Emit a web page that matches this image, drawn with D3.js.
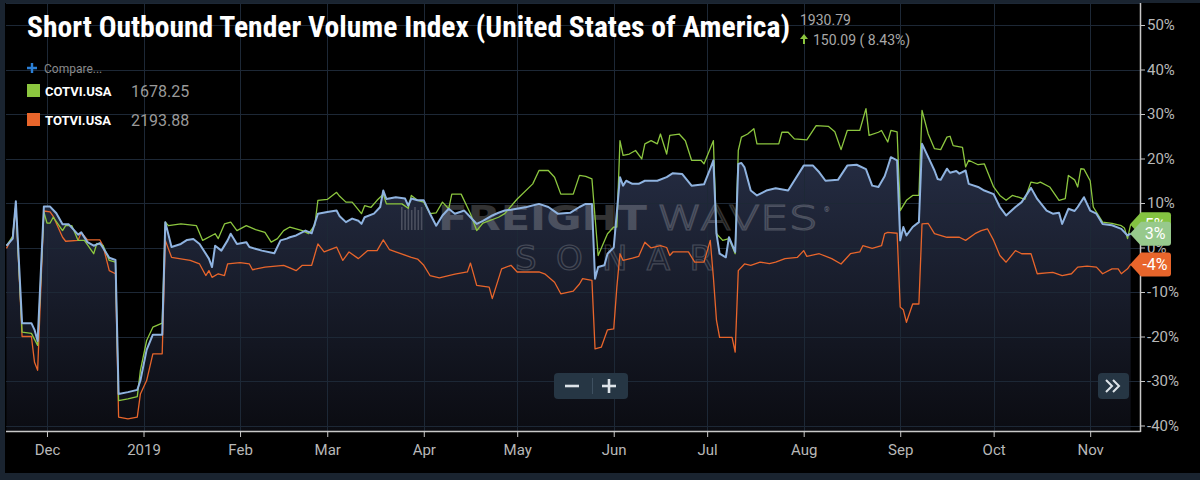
<!DOCTYPE html>
<html>
<head>
<meta charset="utf-8">
<script src="https://cdn.jsdelivr.net/npm/d3@7"></script>
<style>
  html, body { margin: 0; padding: 0; background: #000; }
  svg { display: block; font-family: Roboto, "Noto Sans", sans-serif; }
</style>
</head>
<body>
<svg id="chart" width="1200" height="480"></svg>
<script>
// values are % change
const otvi = [
  ["2018-11-18", 0.4], ["2018-11-20", 2.0], ["2018-11-21", 10.4], ["2018-11-23", -17], ["2018-11-26", -17],
  ["2018-11-27", -18.5], ["2018-11-28", -21], ["2018-11-30", 9.2], ["2018-12-02", 9.2], ["2018-12-04", 7.7],
  ["2018-12-06", 5.2], ["2018-12-08", 5.2], ["2018-12-11", 2.9], ["2018-12-12", 3.4], ["2018-12-14", 1.2],
  ["2018-12-16", 0.4], ["2018-12-18", 1.0], ["2018-12-21", -2.3], ["2018-12-23", -2.8], ["2018-12-24", -32.9],
  ["2018-12-27", -32.5], ["2018-12-30", -32], ["2018-12-31", -29.9], ["2019-01-02", -23], ["2019-01-04", -19.6],
  ["2019-01-07", -19.6], ["2019-01-08", 5.7], ["2019-01-10", 0.1], ["2019-01-13", 0.8], ["2019-01-15", 1.7],
  ["2019-01-17", 1.9], ["2019-01-19", 0.8], ["2019-01-22", -2.5], ["2019-01-23", -4.4], ["2019-01-24", 0.4],
  ["2019-01-26", -0.7], ["2019-01-28", 1.6], ["2019-01-29", 3.1], ["2019-01-31", 0.8], ["2019-02-03", 1.2],
  ["2019-02-04", 0.1], ["2019-02-08", -0.7], ["2019-02-12", -1.3], ["2019-02-14", 1.6], ["2019-02-16", 2.0],
  ["2019-02-17", 2.3], ["2019-02-19", 2.7], ["2019-02-22", 3.8], ["2019-02-24", 3.2], ["2019-02-26", 7.6],
  ["2019-03-01", 8.0], ["2019-03-04", 8.3], ["2019-03-05", 7.0], ["2019-03-07", 5.7], ["2019-03-09", 6.5],
  ["2019-03-11", 6.0], ["2019-03-12", 5.3], ["2019-03-13", 6.8], ["2019-03-16", 7.6], ["2019-03-18", 9.1],
  ["2019-03-19", 12.8], ["2019-03-20", 10.9], ["2019-03-23", 11.3], ["2019-03-26", 11.0], ["2019-03-27", 9.4],
  ["2019-03-28", 11.0], ["2019-03-30", 10.6], ["2019-04-01", 10.6], ["2019-04-03", 7.6], ["2019-04-05", 4.9],
  ["2019-04-07", 7.2], ["2019-04-09", 8.7], ["2019-04-11", 7.6], ["2019-04-14", 8.3], ["2019-04-16", 6.8],
  ["2019-04-18", 5.3], ["2019-04-20", 6.0], ["2019-04-23", 7.2], ["2019-04-25", 7.8], ["2019-04-27", 8.3],
  ["2019-04-29", 8.5], ["2019-05-04", 9.1], ["2019-05-08", 9.8], ["2019-05-11", 9.1], ["2019-05-14", 7.6],
  ["2019-05-18", 7.8], ["2019-05-21", 9.1], ["2019-05-23", 9.8], ["2019-05-25", 9.8], ["2019-05-26", -7.0],
  ["2019-05-27", -4.4], ["2019-05-29", -4.0], ["2019-05-30", -1.4], ["2019-06-01", 0], ["2019-06-03", 15.8],
  ["2019-06-04", 13.9], ["2019-06-05", 15.0], ["2019-06-07", 14.3], ["2019-06-09", 14.3], ["2019-06-11", 15.0],
  ["2019-06-15", 15.0], ["2019-06-18", 15.8], ["2019-06-20", 16.7], ["2019-06-23", 16.5], ["2019-06-26", 13.9],
  ["2019-06-30", 14.2], ["2019-07-02", 17.7], ["2019-07-03", 19.6], ["2019-07-04", 3.1], ["2019-07-05", -1.4],
  ["2019-07-07", -2.2], ["2019-07-08", 2.3], ["2019-07-10", -1.0], ["2019-07-11", 18.8], ["2019-07-12", 19.0],
  ["2019-07-13", 18.0], ["2019-07-15", 12.8], ["2019-07-17", 11.7], ["2019-07-20", 12.8], ["2019-07-23", 13.3],
  ["2019-07-27", 12.8], ["2019-08-01", 18.4], ["2019-08-04", 18.4], ["2019-08-06", 16.9], ["2019-08-08", 15.0],
  ["2019-08-12", 15.2], ["2019-08-15", 18.4], ["2019-08-18", 18.6], ["2019-08-21", 17.6], ["2019-08-23", 13.9],
  ["2019-08-25", 13.6], ["2019-08-27", 16.0], ["2019-08-28", 18.1], ["2019-08-29", 20.3], ["2019-08-31", 19.6],
  ["2019-09-01", 1.6], ["2019-09-02", 4.6], ["2019-09-03", 2.7], ["2019-09-05", 4.6], ["2019-09-07", 5.7],
  ["2019-09-08", 23.3], ["2019-09-10", 20.3], ["2019-09-12", 17.3], ["2019-09-13", 15.4], ["2019-09-14", 15.2],
  ["2019-09-16", 17.7], ["2019-09-17", 16.8], ["2019-09-19", 17.2], ["2019-09-20", 16.6], ["2019-09-22", 17.3],
  ["2019-09-23", 14.3], ["2019-09-26", 13.6], ["2019-09-28", 12.8], ["2019-10-01", 12.0], ["2019-10-03", 9.1],
  ["2019-10-05", 7.2], ["2019-10-08", 9.1], ["2019-10-10", 10.2], ["2019-10-13", 13.4], ["2019-10-15", 10.9],
  ["2019-10-18", 8.3], ["2019-10-20", 7.6], ["2019-10-22", 7.8], ["2019-10-23", 5.3], ["2019-10-25", 8.7],
  ["2019-10-27", 8.2], ["2019-10-28", 9.1], ["2019-10-30", 11.3], ["2019-11-01", 8.3], ["2019-11-03", 7.6],
  ["2019-11-05", 5.3], ["2019-11-08", 5.0], ["2019-11-11", 4.2], ["2019-11-13", 2.7], ["2019-11-14", 3.1]
];

const cotvi = [
  ["2018-11-18", 0.4], ["2018-11-20", 2.5], ["2018-11-21", 9.5], ["2018-11-23", -19], ["2018-11-26", -19.3],
  ["2018-11-28", -22], ["2018-11-30", 8.0], ["2018-12-01", 5.5], ["2018-12-02", 5.5], ["2018-12-03", 6.8],
  ["2018-12-06", 3.8], ["2018-12-07", 4.9], ["2018-12-09", 4.9], ["2018-12-11", 1.6], ["2018-12-13", 1.6],
  ["2018-12-16", -1.4], ["2018-12-17", 0.9], ["2018-12-19", 0.5], ["2018-12-21", -2.9], ["2018-12-23", -3.3],
  ["2018-12-24", -34.4], ["2018-12-27", -34], ["2018-12-30", -33.5], ["2018-12-31", -27.6], ["2019-01-02", -20.9],
  ["2019-01-04", -17.9], ["2019-01-07", -17], ["2019-01-08", 5.7], ["2019-01-09", 4.9], ["2019-01-13", 5.3],
  ["2019-01-18", 4.9], ["2019-01-20", 1.6], ["2019-01-24", 3.1], ["2019-01-25", 2.0], ["2019-01-27", 5.3],
  ["2019-01-29", 5.7], ["2019-01-31", 3.8], ["2019-02-03", 4.9], ["2019-02-06", 4.0], ["2019-02-09", 3.4],
  ["2019-02-11", 1.2], ["2019-02-13", 2.0], ["2019-02-15", 3.8], ["2019-02-17", 4.6], ["2019-02-19", 4.2],
  ["2019-02-21", 3.8], ["2019-02-23", 3.1], ["2019-02-25", 5.0], ["2019-02-26", 10.6], ["2019-03-01", 10.8],
  ["2019-03-04", 12.4], ["2019-03-05", 11.5], ["2019-03-07", 10.2], ["2019-03-09", 10.2], ["2019-03-12", 7.6],
  ["2019-03-13", 9.4], ["2019-03-15", 9.0], ["2019-03-17", 10.6], ["2019-03-19", 12.0], ["2019-03-20", 9.8],
  ["2019-03-25", 9.8], ["2019-03-27", 8.8], ["2019-03-28", 11.7], ["2019-03-30", 10.6], ["2019-04-01", 10.2],
  ["2019-04-03", 7.6], ["2019-04-05", 7.8], ["2019-04-07", 10.2], ["2019-04-09", 8.7], ["2019-04-10", 12.0],
  ["2019-04-13", 12.0], ["2019-04-16", 7.6], ["2019-04-18", 3.8], ["2019-04-20", 5.5], ["2019-04-25", 6.8],
  ["2019-04-27", 7.6], ["2019-05-01", 10.9], ["2019-05-06", 14.3], ["2019-05-08", 17.3], ["2019-05-11", 17.3],
  ["2019-05-13", 15.8], ["2019-05-15", 12.0], ["2019-05-19", 12.0], ["2019-05-21", 16.2], ["2019-05-23", 16.0],
  ["2019-05-25", 15.4], ["2019-05-27", -1.8], ["2019-05-30", 3.1], ["2019-06-01", 4.6], ["2019-06-02", 4.6],
  ["2019-06-03", 24.0], ["2019-06-04", 20.7], ["2019-06-06", 21.0], ["2019-06-08", 21.8], ["2019-06-10", 19.9],
  ["2019-06-11", 23.3], ["2019-06-13", 24.0], ["2019-06-15", 23.3], ["2019-06-16", 25.5], ["2019-06-18", 21.0],
  ["2019-06-19", 25.2], ["2019-06-22", 25.5], ["2019-06-24", 24.0], ["2019-06-26", 19.6], ["2019-06-29", 19.6],
  ["2019-06-30", 18.8], ["2019-07-03", 24.0], ["2019-07-04", 3.1], ["2019-07-06", 1.6], ["2019-07-08", 2.0],
  ["2019-07-10", -1.4], ["2019-07-11", 21.8], ["2019-07-12", 24.8], ["2019-07-14", 25.5], ["2019-07-16", 26.7],
  ["2019-07-17", 23.3], ["2019-07-24", 23.3], ["2019-07-25", 25.9], ["2019-07-27", 25.9], ["2019-07-29", 24.4],
  ["2019-08-02", 24.2], ["2019-08-05", 27.4], ["2019-08-09", 27.2], ["2019-08-11", 26.0], ["2019-08-13", 22.0],
  ["2019-08-15", 26.3], ["2019-08-19", 26.3], ["2019-08-21", 31.2], ["2019-08-22", 25.2], ["2019-08-25", 25.9],
  ["2019-08-26", 26.3], ["2019-08-28", 23.7], ["2019-08-29", 26.3], ["2019-08-31", 26.0], ["2019-09-01", 8.3],
  ["2019-09-03", 10.6], ["2019-09-05", 11.7], ["2019-09-07", 11.7], ["2019-09-08", 30.8], ["2019-09-10", 25.5],
  ["2019-09-12", 22.2], ["2019-09-14", 22.0], ["2019-09-16", 24.8], ["2019-09-17", 25.0], ["2019-09-18", 22.9],
  ["2019-09-21", 22.5], ["2019-09-22", 18.1], ["2019-09-23", 19.6], ["2019-09-26", 18.6], ["2019-09-28", 18.8],
  ["2019-10-01", 13.6], ["2019-10-03", 11.7], ["2019-10-05", 10.6], ["2019-10-07", 11.7], ["2019-10-09", 11.3],
  ["2019-10-11", 10.8], ["2019-10-13", 14.7], ["2019-10-15", 14.4], ["2019-10-16", 14.7], ["2019-10-19", 13.6],
  ["2019-10-22", 10.6], ["2019-10-24", 11.0], ["2019-10-25", 16.2], ["2019-10-27", 15.2], ["2019-10-28", 13.6],
  ["2019-10-29", 17.7], ["2019-10-30", 17.6], ["2019-11-01", 15.0], ["2019-11-02", 9.1], ["2019-11-05", 5.7],
  ["2019-11-08", 5.4], ["2019-11-11", 4.9], ["2019-11-12", 4.4], ["2019-11-13", 2.0], ["2019-11-14", 5.2]
];

const totvi = [
  ["2018-11-18", -0.2], ["2018-11-20", 2.5], ["2018-11-21", 9.5], ["2018-11-23", -20], ["2018-11-26", -20],
  ["2018-11-27", -25.8], ["2018-11-28", -27.6], ["2018-11-30", 8.2], ["2018-12-02", 8.0], ["2018-12-03", 7.0],
  ["2018-12-06", 2.3], ["2018-12-07", 1.4], ["2018-12-11", 1.6], ["2018-12-12", 3.4], ["2018-12-14", 1.7],
  ["2018-12-18", 1.7], ["2018-12-19", 0.4], ["2018-12-21", -5.2], ["2018-12-23", -5.9], ["2018-12-24", -38.1],
  ["2018-12-27", -38.5], ["2018-12-30", -38.1], ["2018-12-31", -32.9], ["2019-01-02", -29.9], ["2019-01-04", -23.9],
  ["2019-01-07", -23.9], ["2019-01-08", 1.6], ["2019-01-10", -2.2], ["2019-01-16", -2.9], ["2019-01-19", -3.7],
  ["2019-01-21", -6.3], ["2019-01-22", -5.2], ["2019-01-23", -6.7], ["2019-01-25", -5.9], ["2019-01-27", -6.3],
  ["2019-01-28", -3.7], ["2019-02-01", -3.4], ["2019-02-04", -3.7], ["2019-02-05", -5.0], ["2019-02-09", -4.4],
  ["2019-02-15", -4.0], ["2019-02-17", -4.6], ["2019-02-19", -5.2], ["2019-02-21", -4.0], ["2019-02-24", -4.0],
  ["2019-02-26", 0.8], ["2019-02-28", -1.0], ["2019-03-04", 0.1], ["2019-03-06", -2.9], ["2019-03-08", -1.0],
  ["2019-03-11", -2.5], ["2019-03-14", -0.7], ["2019-03-17", -0.7], ["2019-03-19", 1.7], ["2019-03-21", -0.5],
  ["2019-03-23", -1.0], ["2019-03-28", -2.2], ["2019-03-30", -2.6], ["2019-04-01", -4.0], ["2019-04-03", -6.3],
  ["2019-04-06", -6.8], ["2019-04-09", -6.3], ["2019-04-11", -6.0], ["2019-04-15", -5.5], ["2019-04-16", -3.5],
  ["2019-04-18", -8.5], ["2019-04-22", -8.9], ["2019-04-23", -11.5], ["2019-04-26", -4.8], ["2019-04-29", -4.0],
  ["2019-05-01", -5.5], ["2019-05-08", -5.5], ["2019-05-10", -6.0], ["2019-05-13", -7.8], ["2019-05-15", -10.4],
  ["2019-05-19", -9.8], ["2019-05-21", -8.2], ["2019-05-22", -7.0], ["2019-05-25", -7.4], ["2019-05-26", -22.8],
  ["2019-05-28", -22.4], ["2019-05-30", -18.5], ["2019-06-01", -18.3], ["2019-06-02", -8.9], ["2019-06-03", -1.4],
  ["2019-06-04", -2.9], ["2019-06-07", -2.4], ["2019-06-09", -2.0], ["2019-06-11", 1.2], ["2019-06-13", -0.1],
  ["2019-06-16", 0.4], ["2019-06-18", 0.0], ["2019-06-19", -1.8], ["2019-06-20", -1.0], ["2019-06-25", -1.0],
  ["2019-06-27", -3.3], ["2019-06-30", -3.3], ["2019-07-02", 1.6], ["2019-07-03", -6.7], ["2019-07-04", -16.4],
  ["2019-07-05", -20.2], ["2019-07-09", -20.2], ["2019-07-10", -23.5], ["2019-07-11", -5.2], ["2019-07-13", -3.7],
  ["2019-07-15", -4.0], ["2019-07-18", -3.3], ["2019-07-21", -3.6], ["2019-07-23", -3.3], ["2019-07-26", -2.5],
  ["2019-07-30", -2.2], ["2019-08-01", -0.7], ["2019-08-02", -2.0], ["2019-08-06", -1.4], ["2019-08-10", -2.5],
  ["2019-08-13", -3.7], ["2019-08-16", -1.4], ["2019-08-19", -1.0], ["2019-08-20", 0.4], ["2019-08-23", -0.2],
  ["2019-08-26", 0.4], ["2019-08-27", 3.1], ["2019-08-28", 3.4], ["2019-08-31", 3.2], ["2019-09-01", -13.4],
  ["2019-09-02", -14.0], ["2019-09-03", -16.8], ["2019-09-05", -12.7], ["2019-09-07", -12.7], ["2019-09-08", 5.3],
  ["2019-09-10", 5.4], ["2019-09-12", 3.1], ["2019-09-16", 2.3], ["2019-09-20", 2.3], ["2019-09-22", 1.6],
  ["2019-09-25", 3.1], ["2019-09-27", 3.8], ["2019-09-29", 4.2], ["2019-10-01", 1.6], ["2019-10-03", -1.8],
  ["2019-10-05", -3.3], ["2019-10-08", -0.7], ["2019-10-10", -1.4], ["2019-10-13", -1.4], ["2019-10-15", -5.9],
  ["2019-10-18", -5.7], ["2019-10-20", -5.6], ["2019-10-23", -6.3], ["2019-10-26", -5.9], ["2019-10-28", -4.4],
  ["2019-10-31", -4.2], ["2019-11-03", -4.4], ["2019-11-05", -5.9], ["2019-11-08", -4.8], ["2019-11-10", -4.8],
  ["2019-11-11", -5.9], ["2019-11-13", -4.8], ["2019-11-14", -3.8]
];

const xDomain = ["2018-11-18", "2019-11-17"];
const yDomain = [-40, 50];
const title = "Short Outbound Tender Volume Index (United States of America)";
const headValue = "1930.79";
const headChange = "150.09 ( 8.43%)";
const legendItems = [
  { name: "COTVI.USA", value: "1678.25", color: "#8cc63f" },
  { name: "TOTVI.USA", value: "2193.88", color: "#e8652b" }
];

const W = 1200, H = 480;
const plotTop = 3, plotBottom = 431, plotRight = 1140, plotLeft = 6;

const parse = d3.utcParse("%Y-%m-%d");
const toPts = arr => arr.map(([d, v]) => ({ date: parse(d), value: v }));
const sOtvi = toPts(otvi), sCotvi = toPts(cotvi), sTotvi = toPts(totvi);

const x = d3.scaleUtc().domain(xDomain.map(parse)).range([6.5, plotRight]);
const y = d3.scaleLinear().domain(yDomain).range([425.5, 25]);

const svg = d3.select("#chart");

// frame
svg.append("rect").attr("width", W).attr("height", H).attr("fill", "#1a2430");
svg.append("rect").attr("x", 5).attr("y", 3).attr("width", W - 5).attr("height", 470).attr("fill", "#000");

const defs = svg.append("defs");
const grad = defs.append("linearGradient")
  .attr("id", "areaGrad")
  .attr("gradientUnits", "userSpaceOnUse")
  .attr("x1", 0).attr("x2", 0).attr("y1", 140).attr("y2", plotBottom);
grad.append("stop").attr("offset", 0).attr("stop-color", "#262e45");
grad.append("stop").attr("offset", 1).attr("stop-color", "#0b0c12");

// area under the main series
const area = d3.area()
  .x(d => x(d.date))
  .y0(plotBottom)
  .y1(d => y(d.value));
svg.append("path").datum(sOtvi).attr("d", area).attr("fill", "url(#areaGrad)");

// grid
const grid = svg.append("g").attr("stroke", "#1d2836").attr("stroke-width", 1);
const monthTicks = x.ticks(d3.utcMonth.every(1));
grid.selectAll(".h").data(y.ticks(10)).join("line")
  .attr("x1", plotLeft).attr("x2", plotRight)
  .attr("y1", d => Math.round(y(d)) + 0.5).attr("y2", d => Math.round(y(d)) + 0.5);
grid.selectAll(".v").data(monthTicks).join("line")
  .attr("x1", d => Math.round(x(d)) + 0.5).attr("x2", d => Math.round(x(d)) + 0.5)
  .attr("y1", plotTop).attr("y2", plotBottom);
grid.append("line").attr("x1", plotLeft).attr("x2", plotRight).attr("y1", 3.5).attr("y2", 3.5);

// watermark
const wm = svg.append("g").attr("fill", "#ffffff");
d3.range(7).forEach(i => {
  wm.append("rect").attr("x", 401 + i * 3.3).attr("y", 207 + (i % 2 ? 3 : 0))
    .attr("width", 1.6).attr("height", i % 2 ? 20 : 23).attr("opacity", 0.2);
});
wm.append("text").attr("x", 438).attr("y", 230)
  .attr("font-family", "'DejaVu Sans', sans-serif").attr("font-weight", "bold")
  .attr("font-size", 34).attr("textLength", 209).attr("lengthAdjust", "spacingAndGlyphs")
  .attr("opacity", 0.2).text("FREIGHT");
wm.append("text").attr("x", 657).attr("y", 230)
  .attr("font-family", "'DejaVu Sans', sans-serif").attr("font-weight", 200)
  .attr("font-size", 34).attr("textLength", 161).attr("lengthAdjust", "spacingAndGlyphs")
  .attr("fill", "none").attr("stroke", "#fff").attr("stroke-width", 1.2)
  .attr("opacity", 0.2).text("WAVES");
wm.append("text").attr("x", 824).attr("y", 212).attr("font-size", 7).attr("opacity", 0.3).text("®");
wm.append("text").attr("x", 515).attr("y", 270)
  .attr("font-family", "'DejaVu Sans', sans-serif")
  .attr("font-size", 34).attr("textLength", 198).attr("lengthAdjust", "spacing")
  .attr("fill", "none").attr("stroke", "#fff").attr("stroke-width", 1.2)
  .attr("opacity", 0.18).text("SONAR");

// lines
const line = d3.line().x(d => x(d.date)).y(d => y(d.value));
svg.append("path").datum(sTotvi).attr("d", line)
  .attr("fill", "none").attr("stroke", "#e8652b").attr("stroke-width", 1.3).attr("stroke-linejoin", "round");
svg.append("path").datum(sCotvi).attr("d", line)
  .attr("fill", "none").attr("stroke", "#8cc63f").attr("stroke-width", 1.3).attr("stroke-linejoin", "round");
svg.append("path").datum(sOtvi).attr("d", line)
  .attr("fill", "none").attr("stroke", "#8fb3e0").attr("stroke-width", 2).attr("stroke-linejoin", "round");

// x axis
const xAxis = svg.append("g").attr("transform", `translate(0,${plotBottom})`)
  .call(d3.axisBottom(x).tickValues(monthTicks).tickSize(6).tickSizeOuter(0)
    .tickFormat(d => d.getUTCMonth() === 0 ? d3.utcFormat("%Y")(d) : d3.utcFormat("%b")(d)));
xAxis.select(".domain").remove();
xAxis.selectAll(".tick line").attr("stroke", "#c8c8c8");
xAxis.selectAll(".tick text").attr("y", 13).attr("fill", "#b8b8b8")
  .attr("font-size", 15).attr("font-family", "Roboto, sans-serif");
svg.append("line").attr("x1", plotLeft).attr("x2", plotRight + 0.5)
  .attr("y1", plotBottom + 0.5).attr("y2", plotBottom + 0.5)
  .attr("stroke", "#c8c8c8").attr("stroke-width", 1.5);

// y axis
const yAxis = svg.append("g").attr("transform", `translate(${plotRight},0)`)
  .call(d3.axisRight(y).ticks(10).tickSize(5).tickFormat(d => d + "%"));
yAxis.select(".domain").remove();
yAxis.selectAll(".tick line").attr("stroke", "#c8c8c8");
yAxis.selectAll(".tick text").attr("x", 7).attr("fill", "#b8b8b8")
  .attr("font-size", 15).attr("font-family", "Roboto, sans-serif");
svg.append("line").attr("x1", plotRight + 0.5).attr("x2", plotRight + 0.5)
  .attr("y1", plotTop).attr("y2", plotBottom + 1)
  .attr("stroke", "#c8c8c8").attr("stroke-width", 1.5);

// end-of-series tags
function tag(series, color) {
  const last = series[series.length - 1];
  const ty = y(last.value);
  const g = svg.append("g");
  g.append("path")
    .attr("d", `M1130,${ty} L1141,${ty - 12} L1168,${ty - 12} Q1171,${ty - 12} 1171,${ty - 9}
                L1171,${ty + 9} Q1171,${ty + 12} 1168,${ty + 12} L1141,${ty + 12} Z`)
    .attr("fill", color);
  g.append("text").attr("x", 1155).attr("y", ty).attr("dy", "0.36em")
    .attr("text-anchor", "middle").attr("fill", "#fff").attr("font-size", 16)
    .text(Math.round(last.value) + "%");
}
tag(sCotvi, "#84c341");
tag(sOtvi, "#97c98c");
tag(sTotvi, "#e8652b");

// zoom buttons
const btn = svg.append("g");
btn.append("rect").attr("x", 554).attr("y", 373).attr("width", 74).attr("height", 26).attr("rx", 4).attr("fill", "#263644");
btn.append("line").attr("x1", 565).attr("x2", 579).attr("y1", 386).attr("y2", 386).attr("stroke", "#dde3e8").attr("stroke-width", 2.6);
btn.append("line").attr("x1", 592.5).attr("x2", 592.5).attr("y1", 378).attr("y2", 394).attr("stroke", "#3e5060");
btn.append("line").attr("x1", 602).attr("x2", 616).attr("y1", 386).attr("y2", 386).attr("stroke", "#dde3e8").attr("stroke-width", 2.6);
btn.append("line").attr("x1", 609).attr("x2", 609).attr("y1", 379).attr("y2", 393).attr("stroke", "#dde3e8").attr("stroke-width", 2.6);
btn.append("rect").attr("x", 1098).attr("y", 373).attr("width", 31).attr("height", 26).attr("rx", 4).attr("fill", "#263644");
btn.append("path").attr("d", "M1106,380 L1112,386 L1106,392 M1113,380 L1119,386 L1113,392")
  .attr("fill", "none").attr("stroke", "#dde3e8").attr("stroke-width", 2);

// title + header
svg.append("text").attr("x", 27).attr("y", 37)
  .attr("font-family", "'Roboto Condensed', 'Liberation Sans Narrow', Roboto, sans-serif")
  .attr("font-weight", "bold").attr("font-size", 30).attr("fill", "#fff")
  .attr("textLength", 763).attr("lengthAdjust", "spacingAndGlyphs")
  .text(title);
svg.append("text").attr("x", 800).attr("y", 25).attr("font-size", 14).attr("fill", "#a8a8a8").text(headValue);
svg.append("path").attr("d", "M804,34 L800,39 L803,39 L803,44 L805,44 L805,39 L808,39 Z").attr("fill", "#8cc63f");
svg.append("text").attr("x", 813).attr("y", 45).attr("font-size", 14).attr("fill", "#a8a8a8").text(headChange);

// legend
svg.append("path").attr("d", "M27,68 L37,68 M32,63 L32,73").attr("stroke", "#2b7fd6").attr("stroke-width", 2.4);
svg.append("text").attr("x", 44).attr("y", 73).attr("font-size", 12).attr("fill", "#8a8a8a").text("Compare...");
const leg = svg.selectAll(".leg").data(legendItems).join("g")
  .attr("transform", (d, i) => `translate(27,${84 + i * 29})`);
leg.append("rect").attr("width", 13).attr("height", 13).attr("fill", d => d.color);
leg.append("text").attr("x", 18).attr("y", 11.5).attr("font-size", 13).attr("font-weight", "bold")
  .attr("fill", "#fff").text(d => d.name);
leg.append("text").attr("x", 104).attr("y", 12.5).attr("font-size", 16)
  .attr("fill", "#9a9a9a").text(d => d.value);
</script>
</body>
</html>
